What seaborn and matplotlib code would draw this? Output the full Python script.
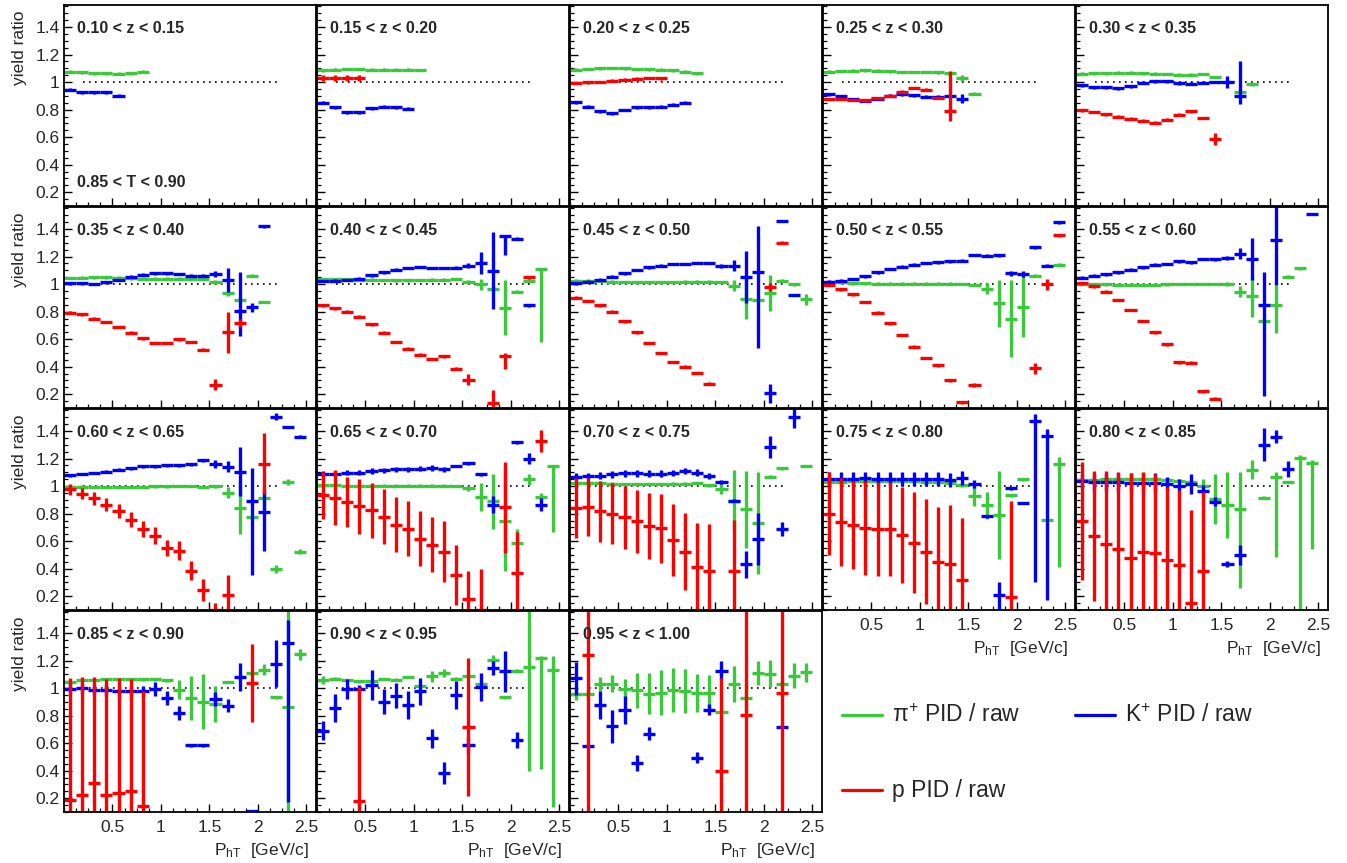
import matplotlib
matplotlib.use("Agg")
import matplotlib.pyplot as plt
from matplotlib.lines import Line2D
from matplotlib.ticker import FixedLocator, MultipleLocator, FuncFormatter
import seaborn as sns

# z bins, one panel each
Z_LABELS = [
    "0.10 < z < 0.15", "0.15 < z < 0.20", "0.20 < z < 0.25", "0.25 < z < 0.30", "0.30 < z < 0.35",
    "0.35 < z < 0.40", "0.40 < z < 0.45", "0.45 < z < 0.50", "0.50 < z < 0.55", "0.55 < z < 0.60",
    "0.60 < z < 0.65", "0.65 < z < 0.70", "0.70 < z < 0.75", "0.75 < z < 0.80", "0.80 < z < 0.85",
    "0.85 < z < 0.90", "0.90 < z < 0.95", "0.95 < z < 1.00",
]
THRUST_LABEL = "0.85 < T < 0.90"

# P_hT bin centres [GeV/c], half width 0.0625
PT_BINS = [0.0625, 0.1875, 0.3125, 0.4375, 0.5625, 0.6875, 0.8125, 0.9375, 1.0625, 1.1875,
           1.3125, 1.4375, 1.5625, 1.6875, 1.8125, 1.9375, 2.0625, 2.1875, 2.3125, 2.4375]
PT_HALF = 0.0625

# pi+ PID / raw
PION_Y = [
    [1.075, 1.07, 1.065, 1.065, 1.06, 1.065, 1.075],
    [1.085, 1.09, 1.095, 1.095, 1.09, 1.09, 1.09, 1.09, 1.088],
    [1.09, 1.095, 1.1, 1.103, 1.1, 1.095, 1.093, 1.09, 1.085, 1.075, 1.063],
    [1.075, 1.08, 1.082, 1.085, 1.082, 1.078, 1.073, 1.073, 1.073, 1.07, 1.065, 1.03, 0.915],
    [1.06, 1.063, 1.065, 1.068, 1.068, 1.065, 1.06, 1.058, 1.055, 1.055, 1.058, 1.037, None, 0.927, 0.985],
    [1.045, 1.047, 1.05, 1.05, 1.047, 1.042, 1.04, 1.04, 1.04, 1.04, 1.04, 1.037, 1.017, 0.932, 0.885, 1.061, 0.87],
    [1.037, 1.037, 1.035, 1.032, 1.032, 1.03, 1.027, 1.027, 1.03, 1.032, 1.032, 1.037, 1.017, 1.0, 0.968, 0.827,
     0.944, 1.024, 1.11],
    [1.024, 1.024, 1.022, 1.017, 1.015, 1.012, 1.012, 1.012, 1.015, 1.017, 1.017, 1.017, 1.015, 0.988, 0.895,
     0.883, 0.934, 1.024, 0.998, 0.89],
    [1.012, 1.012, 1.007, 1.005, 1.002, 1.002, 1.002, 1.002, 1.002, 1.002, 1.002, 1.0, 0.993, 0.968, 0.861, 0.75,
     0.837, 1.06, None, 1.14],
    [1.0, 1.0, 0.998, 0.995, 0.995, 0.995, 0.995, 0.998, 1.0, 1.0, 1.0, 1.0, 0.998, 0.944, 0.91, 0.73, 0.846,
     1.054, 1.115],
    [0.995, 0.995, 0.993, 0.993, 0.993, 0.993, 0.995, 0.998, 0.998, 1.0, 1.0, 0.993, 0.998, 0.951, 0.84, 0.773,
     0.915, 0.4, 1.03, 0.524],
    [1.007, 1.005, 1.002, 1.002, 1.002, 1.002, 1.002, 1.002, 1.002, 1.002, 1.002, 1.0, 0.983, 0.92, 0.89, 0.75,
     0.585, 1.049, 0.92, 1.144],
    [1.024, 1.022, 1.02, 1.017, 1.015, 1.015, 1.015, 1.015, 1.017, 1.017, 1.022, 1.007, 0.98, 0.895, 0.83, 0.73,
     1.068, 1.13, None, 1.146],
    [1.032, 1.032, 1.034, 1.037, 1.037, 1.037, 1.034, 1.034, 1.032, 1.03, 1.024, 1.007, 0.927, 0.86, 0.788,
     0.934, 1.05, None, 0.756, 1.16],
    [1.044, 1.046, 1.049, 1.051, 1.051, 1.051, 1.051, 1.046, 1.039, 1.032, 1.0, 0.905, 0.863, 0.83, 1.12, 0.915,
     1.063, 1.03, 1.205, 1.166],
    [1.044, 1.056, 1.06, 1.063, 1.063, 1.063, 1.063, 1.063, 1.056, 0.988, 0.93, 0.9, 0.885, 1.044, None, 1.11,
     1.134, 0.934, 0.86, 1.246],
    [1.061, 1.068, 1.056, 1.049, 1.049, 1.066, 1.061, 1.08, 1.012, 1.085, 1.11, 1.068, 1.085, 1.032, 1.207,
     0.934, 1.127, 1.151, 1.215, 1.134],
    [0.955, 0.956, 1.032, 1.032, 0.993, 0.983, 0.959, 0.968, 0.983, 0.98, 0.963, 0.963, 0.83, 1.032, 0.927,
     1.11, 1.105, 1.032, 1.09, 1.115],
]
# errors by bin: number = symmetric, pair = (down, up); unlisted bins are tiny
PION_ERR = [
    {}, {}, {}, {11: 0.02}, {13: 0.015},
    {12: 0.015, 13: 0.015},
    {13: 0.04, 15: 0.2, 18: (0.53, 0.0)},
    {13: 0.04, 14: 0.15, 16: 0.13, 19: 0.04},
    {13: 0.04, 14: 0.17, 15: 0.28, 16: 0.22},
    {12: 0.015, 13: 0.04, 14: 0.15, 16: (0.2, 0.15)},
    {13: 0.04, 14: 0.19, 16: 0.09, 17: 0.03, 18: 0.02, 19: 0.02},
    {12: 0.02, 13: 0.1, 14: 0.2, 15: 0.37, 16: 0.1, 17: 0.04, 18: 0.03, 19: (0.48, 0.0)},
    {12: 0.04, 13: 0.22, 14: 0.28, 15: 0.37},
    {12: 0.07, 13: 0.1, 14: 0.32, 19: (0.75, 0.05)},
    {10: 0.05, 11: 0.18, 12: 0.24, 13: (0.57, 0.27), 14: 0.07, 16: (0.58, 0.04), 18: (1.1, 0.02),
     19: (0.62, 0.02)},
    {9: 0.07, 10: 0.16, 11: 0.2, 12: 0.13, 16: 0.04, 18: 0.76, 19: 0.04},
    {0: 0.03, 9: 0.04, 10: 0.03, 14: 0.03, 17: 0.75, 18: (0.8, 0.02), 19: (1.0, 0.1)},
    {0: 0.04, 1: 0.04, 2: 0.05, 3: 0.06, 4: 0.07, 5: 0.13, 6: 0.15, 7: 0.16, 8: 0.16, 9: 0.16, 10: 0.14,
     11: 0.13, 13: 0.13, 14: 0.1, 15: 0.09, 16: 0.1, 17: 0.03, 18: 0.09, 19: 0.07},
]

# K+ PID / raw
KAON_Y = [
    [0.945, 0.925, 0.925, 0.925, 0.90],
    [0.85, 0.817, 0.78, 0.78, 0.81, 0.82, 0.817, 0.807],
    [0.854, 0.822, 0.788, 0.773, 0.797, 0.817, 0.817, 0.822, 0.837, 0.85],
    [0.91, 0.898, 0.878, 0.866, 0.878, 0.9, 0.91, 0.905, 0.895, 0.895, 0.9, 0.88],
    [0.976, 0.963, 0.963, 0.954, 0.97, 0.995, 1.007, 1.007, 0.99, 0.988, 0.995, 1.0, 1.0, 0.9],
    [1.005, 1.005, 1.0, 1.012, 1.03, 1.054, 1.068, 1.078, 1.078, 1.073, 1.06, 1.06, 1.073, 1.03, 0.805, 0.83, 1.42],
    [1.022, 1.025, 1.03, 1.04, 1.063, 1.085, 1.105, 1.117, 1.124, 1.117, 1.117, 1.12, 1.134, 1.154, 1.098, 1.35,
     1.33, 0.846],
    [1.007, 1.017, 1.032, 1.054, 1.078, 1.102, 1.122, 1.134, 1.146, 1.146, 1.154, 1.154, 1.134, 1.134, 1.054,
     1.085, 0.207, 1.458, 0.92],
    [1.017, 1.024, 1.037, 1.056, 1.085, 1.11, 1.127, 1.14, 1.154, 1.158, 1.166, 1.17, 1.212, 1.207, 1.21, 1.078,
     1.073, 1.266, 1.134, 1.45],
    [1.046, 1.06, 1.07, 1.085, 1.105, 1.122, 1.14, 1.146, 1.166, 1.158, 1.183, 1.18, 1.188, 1.22, 1.183, 0.846,
     1.317, None, None, 1.51],
    [1.078, 1.088, 1.095, 1.105, 1.12, 1.13, 1.144, 1.144, 1.15, 1.151, 1.158, 1.188, 1.163, 1.139, 1.105, 0.895,
     0.812, 1.505, 1.43, 1.358],
    [1.09, 1.09, 1.098, 1.098, 1.11, 1.115, 1.122, 1.122, 1.127, 1.13, 1.122, 1.146, 1.166, 1.085, 0.866, None,
     1.317, 1.2, 0.866],
    [1.068, 1.073, 1.075, 1.085, 1.093, 1.093, 1.09, 1.09, 1.095, 1.11, 1.098, 1.073, 1.032, 0.895, 0.432, 0.615,
     1.285, 0.69, 1.5],
    [1.049, 1.049, 1.054, 1.056, 1.054, 1.049, 1.051, 1.054, 1.054, 1.049, 1.042, 1.061, 1.017, 0.78, 0.207,
     0.983, 0.878, 1.476, 1.366],
    [1.037, 1.027, 1.027, 1.027, 1.022, 1.022, 1.022, 1.015, 1.0, 1.015, 0.966, 0.888, 0.434, 0.5, None, 1.3,
     1.36, 1.124],
    [0.995, 1.0, 0.988, 0.983, 0.978, 0.978, 0.978, 0.995, 0.93, 0.82, 0.585, 0.585, 0.922, 0.873, 1.08, 0.105,
     None, 1.178, 1.324],
    [0.69, 0.854, 0.993, 0.993, 1.024, 0.902, 0.944, 0.878, 0.976, 0.634, 0.385, 0.951, 0.585, 1.007, 1.146,
     1.122, 0.622],
    [1.073, 0.578, 0.878, 0.724, 0.841, 0.456, 0.67, None, None, None, 0.493, 0.841, 1.127, None, None, None,
     None, 0.72],
]
KAON_ERR = [
    {}, {}, {}, {11: 0.035},
    {12: 0.045, 13: (0.06, 0.256)},
    {12: 0.025, 13: 0.09, 14: (0.18, 0.285), 15: 0.03},
    {12: 0.02, 13: 0.08, 14: 0.28, 15: (0.14, 0.0)},
    {12: 0.015, 13: 0.04, 14: 0.19, 15: (0.55, 0.34), 16: 0.07},
    {15: 0.02, 16: 0.025},
    {12: 0.015, 13: 0.04, 14: 0.15, 15: (0.66, 0.24), 16: (0.32, 0.25)},
    {11: 0.01, 12: 0.03, 13: 0.04, 14: 0.18, 15: (0.54, 0.24), 16: (0.28, 0.15), 17: 0.025},
    {0: 0.02, 1: 0.02, 2: 0.02, 3: 0.02, 4: 0.02, 5: 0.02, 6: 0.02, 7: 0.02, 8: 0.02, 9: 0.02, 10: 0.02,
     14: 0.06, 17: 0.04, 18: 0.05},
    {0: 0.025, 1: 0.025, 2: 0.025, 3: 0.025, 4: 0.025, 5: 0.025, 6: 0.025, 7: 0.025, 8: 0.025, 9: 0.025,
     10: 0.025, 11: 0.025, 12: 0.015, 14: 0.1, 15: 0.19, 16: 0.08, 17: 0.05, 18: 0.08},
    {0: 0.05, 1: 0.05, 2: 0.05, 3: 0.05, 4: 0.05, 5: 0.05, 6: 0.05, 7: 0.05, 8: 0.05, 9: 0.05, 10: 0.05,
     11: 0.05, 12: 0.03, 14: 0.1, 17: (1.17, 0.05), 18: (1.19, 0.05)},
    {0: 0.05, 1: 0.07, 2: 0.07, 3: 0.07, 4: 0.07, 5: 0.07, 6: 0.07, 7: 0.05, 8: 0.05, 9: 0.07, 10: 0.04,
     11: 0.03, 12: 0.02, 13: 0.07, 15: 0.12, 16: 0.05, 17: 0.06},
    {0: 0.04, 1: 0.04, 2: 0.04, 3: 0.04, 4: 0.04, 5: 0.04, 6: 0.04, 7: 0.05, 8: 0.05, 9: 0.05, 12: 0.05,
     13: 0.05, 14: 0.1, 17: 0.17, 18: (1.15, 0.17)},
    {0: 0.07, 1: 0.1, 2: 0.07, 3: 0.03, 4: 0.11, 5: 0.09, 6: 0.09, 7: 0.1, 8: 0.1, 9: 0.07, 10: 0.08, 11: 0.1,
     12: 0.06, 13: 0.1, 14: 0.05, 15: 0.15, 16: 0.06},
    {0: 0.12, 2: 0.1, 3: 0.12, 4: 0.1, 5: 0.06, 6: 0.05, 10: 0.04, 11: 0.04, 12: 0.07},
]

# p PID / raw
PROTON_Y = [
    [],
    [1.03, 1.03, 1.03, 1.03],
    [0.993, 0.998, 1.0, 1.01, 1.017, 1.025, 1.03, 1.027],
    [0.878, 0.878, 0.87, 0.868, 0.885, 0.9, 0.93, 0.958, 0.946, 0.885, 0.79],
    [0.795, 0.783, 0.766, 0.749, 0.734, 0.72, 0.705, 0.727, 0.763, 0.788, 0.739, 0.588],
    [0.793, 0.78, 0.75, 0.724, 0.688, 0.646, 0.605, 0.573, 0.573, 0.598, 0.58, 0.524, 0.268, 0.65, 0.715],
    [0.846, 0.824, 0.8, 0.763, 0.707, 0.646, 0.58, 0.53, 0.488, 0.456, 0.476, 0.385, 0.305, None, 0.134, 0.476,
     None, 1.05],
    [0.902, 0.878, 0.846, 0.8, 0.73, 0.65, 0.573, 0.5, 0.434, 0.4, 0.354, 0.276, None, None, None, None, 0.98, 1.3],
    [0.993, 0.963, 0.927, 0.87, 0.793, 0.715, 0.63, 0.544, 0.463, 0.41, 0.3, 0.14, 0.268, None, None, None, None,
     0.39, 1.0, 1.354],
    [1.007, 0.983, 0.944, 0.885, 0.812, 0.732, 0.651, 0.563, 0.432, 0.43, 0.22, 0.168],
    [0.976, 0.944, 0.91, 0.866, 0.817, 0.756, 0.69, 0.64, 0.549, 0.53, 0.385, 0.244, 0.1, 0.207, None, None, 1.163],
    [0.934, 0.915, 0.885, 0.854, 0.824, 0.776, 0.72, 0.69, 0.617, 0.573, 0.524, 0.354, 0.183, 0.1, None, 0.846,
     0.366, None, 1.33],
    [0.841, 0.846, 0.817, 0.8, 0.773, 0.744, 0.707, 0.695, 0.61, 0.524, 0.415, 0.383, None, 0.385],
    [0.8, 0.737, 0.72, 0.695, 0.69, 0.69, 0.646, 0.59, 0.524, 0.446, 0.434, 0.317, None, None, None, 0.195],
    [0.746, 0.637, 0.583, 0.54, 0.478, 0.52, 0.515, 0.466, 0.424, 0.149, 0.38],
    [0.19, 0.227, 0.312, 0.227, 0.24, 0.256, 0.14, None, None, None, None, None, None, None, None, 1.037],
    [None, None, None, 0.178, None, None, None, None, None, None, None, None, 0.715],
    [None, 1.244, None, None, None, None, None, None, None, None, None, None, 0.4, None, 0.805, None, None, 0.968],
]
PROTON_ERR = [
    {}, {0: 0.02, 1: 0.02, 2: 0.02, 3: 0.02}, {}, {10: (0.07, 0.29)}, {11: 0.045},
    {12: 0.04, 13: 0.15, 14: 0.03},
    {12: 0.04, 14: 0.1, 15: (0.09, 0.02)},
    {16: 0.03},
    {12: 0.015, 17: 0.04, 18: 0.04},
    {},
    {0: 0.04, 1: 0.04, 2: 0.045, 3: 0.05, 4: 0.05, 5: 0.055, 6: 0.06, 7: 0.06, 8: 0.06, 9: 0.07, 10: 0.07,
     11: 0.08, 12: 0.05, 13: 0.15, 16: 0.22},
    {0: 0.17, 1: 0.2, 2: 0.18, 3: 0.2, 4: 0.2, 5: 0.2, 6: 0.2, 7: 0.2, 8: 0.2, 9: 0.2, 10: 0.22, 11: 0.22,
     12: 0.2, 13: 0.3, 15: 0.33, 16: 0.3, 18: 0.08},
    {0: 0.22, 1: 0.21, 2: 0.22, 3: 0.22, 4: 0.23, 5: 0.23, 6: 0.24, 7: 0.25, 8: 0.26, 9: 0.28, 10: 0.32,
     11: 0.34, 13: 0.37},
    {0: 0.3, 1: 0.32, 2: 0.32, 3: 0.34, 4: 0.34, 5: 0.34, 6: 0.35, 7: 0.37, 8: 0.38, 9: 0.4, 10: 0.43,
     11: 0.45, 15: 0.7},
    {0: 0.43, 1: 0.475, 2: 0.53, 3: 0.56, 4: 0.62, 5: 0.58, 6: 0.57, 7: 0.53, 8: 0.55, 9: 0.68, 10: 0.58},
    {0: 0.88, 1: 0.85, 2: 0.77, 3: 0.84, 4: 0.83, 5: 0.81, 6: 0.84, 15: 0.28},
    {3: (0.1, 0.83), 12: 0.5},
    {1: (1.2, 0.55), 12: (0.6, 0.67), 14: 1.0, 17: 1.0},
]

SERIES = [
    ("π$^{+}$ PID / raw", "#3cc83c", PION_Y, PION_ERR),
    ("K$^{+}$ PID / raw", "#0000ff", KAON_Y, KAON_ERR),
    ("p PID / raw", "#ff0000", PROTON_Y, PROTON_ERR),
]

sns.set_theme(style="ticks")
plt.rcParams["font.family"] = ["Liberation Sans", "DejaVu Sans"]
plt.rcParams["mathtext.fontset"] = "custom"
plt.rcParams["mathtext.rm"] = "Liberation Sans"
plt.rcParams["mathtext.it"] = "Liberation Sans:italic"
plt.rcParams["mathtext.bf"] = "Liberation Sans:bold"

W, H = 1347, 863
fig = plt.figure(figsize=(W / 100, H / 100), dpi=100)
fig.patch.set_facecolor("white")

TINY = 0.01
fmt_g = FuncFormatter(lambda v, _: f"{v:g}")


def draw_series(ax, yvals, errs, color):
    xs, ys, lo, hi = [], [], [], []
    for i, y in enumerate(yvals):
        if y is None:
            continue
        e = errs.get(i, TINY)
        if isinstance(e, tuple):
            d, u = e
        else:
            d = u = e
        xs.append(PT_BINS[i])
        ys.append(y)
        lo.append(max(d, TINY))
        hi.append(max(u, TINY))
    if xs:
        ax.errorbar(xs, ys, xerr=PT_HALF, yerr=[lo, hi], fmt="none", ecolor=color,
                    elinewidth=2.4, capsize=0)


for k, zlab in enumerate(Z_LABELS):
    r, c = divmod(k, 5)
    left = 64 + 253 * c
    top = 5 + 202 * r
    ax = fig.add_axes([left / W, 1 - (top + 201) / H, 252 / W, 201 / H])
    ax.set_facecolor("white")

    ax.plot([0.2, 2.2], [1, 1], color="black", lw=1.2, ls=(0, (1, 2.6)), zorder=1)
    for _, color, ydata, edata in SERIES:
        draw_series(ax, ydata[k], edata[k], color)

    ax.set_xlim(0, 2.6)
    ax.set_ylim(0.1, 1.56)
    ax.xaxis.set_major_locator(FixedLocator([0.5, 1.0, 1.5, 2.0, 2.5]))
    ax.xaxis.set_minor_locator(MultipleLocator(0.125))
    ax.yaxis.set_major_locator(MultipleLocator(0.2))
    ax.yaxis.set_minor_locator(MultipleLocator(0.05))
    ax.xaxis.set_major_formatter(fmt_g)
    ax.yaxis.set_major_formatter(fmt_g)

    bottom_row = (r == 3) or (r == 2 and c >= 3)
    ax.tick_params(which="both", direction="in", top=False, right=False, color="black",
                   labelsize=12.5, labelleft=(c == 0), labelbottom=bottom_row)
    ax.tick_params(which="major", length=6, width=1.0)
    ax.tick_params(which="minor", length=3, width=0.9)
    ax.tick_params(axis="x", which="major", pad=6)
    ax.tick_params(axis="y", which="major", pad=3)
    for sp in ax.spines.values():
        sp.set_color("black")
        sp.set_linewidth(1.3)

    ax.text(0.05, 0.885, zlab, transform=ax.transAxes, fontsize=11.5, fontweight="bold",
            va="center", ha="left")
    if k == 0:
        ax.text(0.05, 0.115, THRUST_LABEL, transform=ax.transAxes, fontsize=11.5,
                fontweight="bold", va="center", ha="left")
    if c == 0:
        ax.set_ylabel("yield ratio", fontsize=12.5, loc="top")
        ax.yaxis.set_label_coords(-0.145, 0.975)
    if bottom_row:
        ax.text(0.97, -0.19, r"P$_{\mathrm{hT}}$  [GeV/c]", transform=ax.transAxes,
                fontsize=12.5, ha="right", va="center")

# legend in the empty corner
LEGEND_POS = [(842, 715), (1075, 715), (842, 790)]
for (label, color, _, _), (px, py) in zip(SERIES, LEGEND_POS):
    fig.add_artist(Line2D([px / W, (px + 40) / W], [1 - py / H, 1 - py / H], color=color, lw=2.3,
                          transform=fig.transFigure))
    fig.text((px + 50) / W, 1 - py / H, label, fontsize=16.5, va="center", ha="left")

fig.savefig("out.png", dpi=100, facecolor="white")
